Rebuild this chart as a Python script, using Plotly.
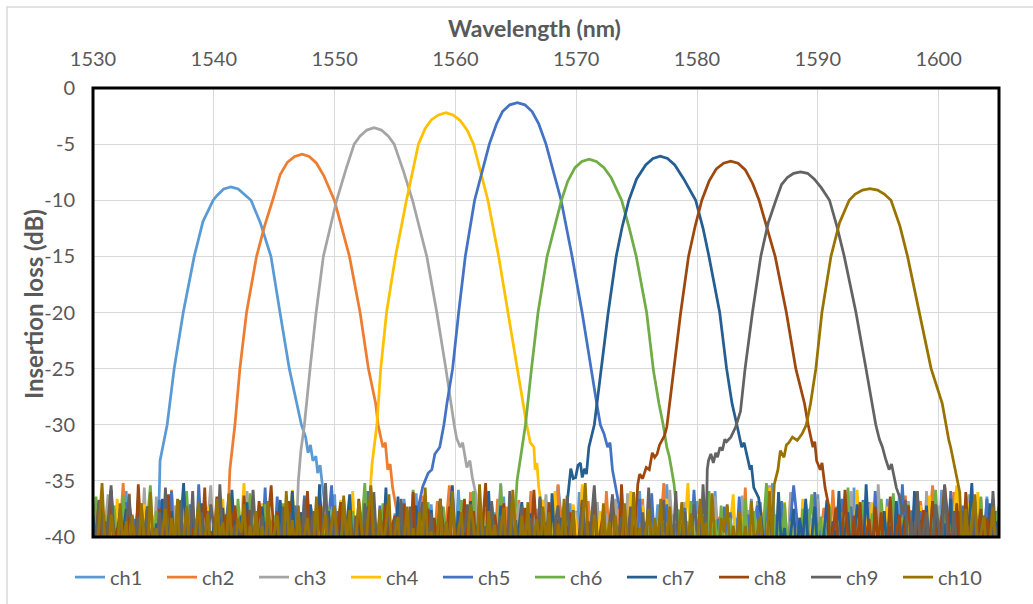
import numpy as np
import plotly.graph_objects as go

# ---------------- data ----------------
CHANNELS = ["ch1", "ch2", "ch3", "ch4", "ch5", "ch6", "ch7", "ch8", "ch9", "ch10"]
COLORS = ["#5B9BD5", "#ED7D31", "#A5A5A5", "#FFC000", "#4472C4",
          "#70AD47", "#255E91", "#9E480E", "#636363", "#997300"]
X_TICKS = [1530, 1540, 1550, 1560, 1570, 1580, 1590, 1600]
Y_TICKS = [0, -5, -10, -15, -20, -25, -30, -35, -40]
Y_TICK_TEXT = ["0", "-5", "-10", "-15", "-20", "-25", "-30", "-35", "-40"]

# noise-floor sampling grid (nm)
NOISE_START = 1530.0
NOISE_STEP = 0.25
NOISE_COUNT = 301

# passband: [wavelength nm, insertion loss dB]
PEAK1 = [[1535.45, -37.8], [1535.55, -33.2], [1535.85, -31.6], [1536.14, -30.0], [1536.72, -25.0],
         [1537.47, -20.0], [1538.38, -15.0], [1539.1, -11.9], [1539.95, -10.0], [1540.25, -9.6],
         [1540.82, -9.0], [1541.42, -8.81], [1542.02, -9.0], [1542.62, -9.6], [1543.08, -10.0],
         [1543.85, -12.0], [1544.73, -15.0], [1545.48, -20.0], [1546.25, -25.0], [1547.25, -30.0],
         [1547.6, -31.1], [1547.8, -32.5], [1548.0, -31.8], [1548.2, -33.2], [1548.45, -32.8],
         [1548.6, -34.3], [1548.8, -33.6], [1549.0, -35.5]]
PEAK2 = [[1541.2, -37.5], [1541.33, -34.0], [1541.75, -30.0], [1542.16, -25.0], [1542.71, -20.0],
         [1543.54, -15.0], [1544.2, -12.3], [1544.87, -10.0], [1545.5, -7.7], [1546.1, -6.6],
         [1546.7, -6.1], [1547.31, -5.89], [1547.9, -6.1], [1548.5, -6.7], [1549.1, -7.8],
         [1549.98, -10.0], [1550.6, -12.5], [1551.23, -15.0], [1552.11, -20.0], [1552.8, -25.0],
         [1553.4, -28.1], [1553.6, -30.0], [1554.0, -32.0], [1554.2, -31.6], [1554.4, -34.0],
         [1554.6, -33.5], [1554.8, -35.6], [1555.2, -38.0]]
PEAK3 = [[1546.95, -36.5], [1547.0, -35.0], [1547.2, -32.4], [1547.5, -30.0], [1547.97, -25.0],
         [1548.47, -20.0], [1549.07, -15.0], [1550.17, -10.0], [1550.95, -7.2], [1551.62, -5.0],
         [1552.1, -4.3], [1552.67, -3.75], [1553.27, -3.54], [1553.87, -3.75], [1554.45, -4.3],
         [1554.93, -5.0], [1555.7, -7.4], [1556.45, -10.0], [1557.63, -15.0], [1558.46, -20.0],
         [1559.21, -25.0], [1559.6, -28.1], [1559.9, -30.0], [1560.1, -31.2], [1560.4, -32.0],
         [1560.6, -31.6], [1560.95, -33.8], [1561.2, -33.2], [1561.4, -34.7], [1561.7, -36.2]]
PEAK4 = [[1552.95, -37.0], [1553.0, -35.0], [1553.1, -33.5], [1553.5, -30.0], [1553.82, -25.0],
         [1554.30, -20.0], [1555.04, -15.0], [1555.95, -10.0], [1556.94, -5.0], [1557.5, -3.6],
         [1558.0, -2.85], [1558.6, -2.4], [1559.21, -2.2], [1559.8, -2.4], [1560.4, -2.9],
         [1561.0, -3.8], [1561.5, -5.0], [1562.69, -10.0], [1563.58, -15.0], [1564.35, -20.0],
         [1565.1, -25.0], [1565.6, -28.1], [1565.9, -30.0], [1566.2, -31.6], [1566.5, -32.0],
         [1566.6, -34.0], [1566.75, -33.4], [1566.9, -35.6], [1567.1, -37.0]]
PEAK5 = [[1557.0, -37.0], [1557.3, -35.5], [1557.5, -35.0], [1557.75, -34.3], [1558.05, -34.0],
         [1558.3, -32.6], [1558.7, -32.0], [1559.05, -30.0], [1559.3, -28.1], [1559.77, -25.0],
         [1560.27, -20.0], [1560.82, -15.0], [1561.59, -10.0], [1562.81, -5.0], [1563.4, -3.2],
         [1563.9, -2.1], [1564.5, -1.5], [1565.13, -1.31], [1565.75, -1.5], [1566.35, -2.1],
         [1566.9, -3.2], [1567.50, -5.0], [1568.75, -10.0], [1569.66, -15.0], [1570.49, -20.0],
         [1571.2, -25.0], [1571.7, -28.1], [1572.0, -30.0], [1572.3, -30.8], [1572.6, -32.0],
         [1572.8, -31.6], [1573.0, -34.0], [1573.3, -35.6], [1573.6, -37.5]]
PEAK6 = [[1565.0, -37.0], [1565.1, -35.0], [1565.4, -32.9], [1565.8, -30.0], [1566.30, -25.0],
         [1566.84, -20.0], [1567.59, -15.0], [1568.2, -12.3], [1568.78, -10.0], [1569.3, -8.3],
         [1569.9, -7.1], [1570.47, -6.55], [1571.07, -6.34], [1571.67, -6.55], [1572.3, -7.1],
         [1572.9, -8.0], [1573.76, -10.0], [1574.4, -12.5], [1574.97, -15.0], [1575.83, -20.0],
         [1576.4, -25.2], [1576.85, -28.1], [1577.2, -30.0], [1577.5, -32.0], [1577.7, -32.8],
         [1577.9, -34.0], [1578.1, -35.3], [1578.3, -37.5]]
PEAK7 = [[1569.2, -37.5], [1569.35, -36.0], [1569.55, -33.9], [1569.75, -34.8], [1569.95, -34.7],
         [1570.15, -33.6], [1570.35, -33.4], [1570.5, -34.7], [1570.7, -33.9], [1570.85, -34.4],
         [1571.05, -32.0], [1571.5, -30.0], [1572.05, -25.0], [1572.65, -20.0], [1573.31, -15.0],
         [1573.8, -12.4], [1574.36, -10.0], [1575.0, -8.1], [1575.75, -6.85], [1576.36, -6.27],
         [1576.96, -6.07], [1577.56, -6.27], [1578.16, -6.85], [1578.9, -8.1], [1579.89, -10.0],
         [1580.5, -12.5], [1580.99, -15.0], [1581.88, -20.0], [1582.45, -25.0], [1582.9, -28.1],
         [1583.3, -30.0], [1583.7, -32.0], [1583.9, -31.6], [1584.2, -32.9], [1584.4, -34.0],
         [1584.5, -33.6], [1584.7, -35.6], [1585.1, -36.5], [1585.3, -38.0]]
PEAK8 = [[1575.0, -37.0], [1575.1, -35.3], [1575.25, -34.4], [1575.5, -34.8], [1575.8, -33.8],
         [1576.05, -34.0], [1576.3, -32.5], [1576.5, -32.9], [1576.7, -32.6], [1576.9, -31.8],
         [1577.1, -31.4], [1577.3, -31.0], [1577.5, -30.2], [1577.8, -27.5], [1578.08, -25.0],
         [1578.65, -20.0], [1579.3, -15.0], [1579.85, -12.3], [1580.4, -10.0], [1581.0, -8.3],
         [1581.6, -7.2], [1582.2, -6.7], [1582.79, -6.52], [1583.4, -6.7], [1584.0, -7.3],
         [1584.6, -8.5], [1585.14, -10.0], [1585.8, -12.4], [1586.47, -15.0], [1587.40, -20.0],
         [1588.18, -25.0], [1588.9, -28.1], [1589.2, -30.0], [1589.6, -32.0], [1589.75, -31.5],
         [1589.9, -33.2], [1590.2, -34.0], [1590.35, -33.4], [1590.6, -35.6], [1590.9, -37.2]]
PEAK9 = [[1580.8, -37.5], [1580.85, -34.0], [1580.95, -33.2], [1581.15, -32.6], [1581.35, -33.4],
         [1581.55, -32.5], [1581.7, -32.9], [1581.9, -32.0], [1582.1, -32.3], [1582.3, -31.3],
         [1582.45, -31.5], [1582.8, -31.1], [1583.2, -30.2], [1583.6, -28.8], [1583.98, -25.0],
         [1584.59, -20.0], [1585.28, -15.0], [1585.9, -12.0], [1586.53, -10.0], [1587.0, -8.6],
         [1587.5, -7.95], [1588.0, -7.6], [1588.57, -7.47], [1589.15, -7.6], [1589.7, -8.1],
         [1590.3, -8.9], [1590.97, -10.0], [1591.6, -12.4], [1592.19, -15.0], [1593.16, -20.0],
         [1593.99, -25.0], [1594.5, -28.1], [1594.8, -30.0], [1595.1, -31.3], [1595.35, -32.0],
         [1595.6, -33.0], [1595.9, -34.0], [1596.1, -33.5], [1596.5, -35.6], [1596.8, -36.5],
         [1597.0, -38.0]]
PEAK10 = [[1586.3, -37.5], [1586.4, -35.3], [1586.7, -34.0], [1586.9, -32.3], [1587.2, -32.9],
          [1587.4, -31.8], [1587.6, -31.6], [1587.9, -31.1], [1588.3, -31.4], [1588.7, -30.8],
          [1589.05, -30.0], [1589.4, -28.1], [1589.84, -25.0], [1590.34, -20.0], [1591.09, -15.0],
          [1591.8, -12.0], [1592.6, -10.0], [1593.1, -9.45], [1593.7, -9.1], [1594.32, -8.96],
          [1594.95, -9.1], [1595.5, -9.45], [1596.06, -10.0], [1596.8, -12.3], [1597.43, -15.0],
          [1598.40, -20.0], [1599.38, -25.0], [1600.3, -28.1], [1600.6, -30.0], [1600.85, -31.4],
          [1601.0, -32.0], [1601.3, -33.5], [1601.55, -34.7], [1601.75, -36.0]]

# noise-floor stretches (dB), 0.25 nm apart
NA = [-40.9, -37.7, -41.6, -39.0, -42, -36.8, -40.5, -39.6, -38.1, -41.8,
      -42, -35.9, -40.6, -38.5, -41.5, -37.2, -42, -39.9, -38.3, -41.2]
NB = [-41.7, -38.8, -40.6, -36.6, -42, -40.2, -37.7, -41.4, -42, -39.0,
      -35.2, -40.7, -41.9, -38.0, -39.8, -42, -37.0, -40.9, -38.6, -41.5]
NC = [-40.2, -42, -37.5, -41.0, -38.9, -36.2, -41.8, -39.7, -38.2, -42,
      -40.5, -37.3, -41.5, -39.2, -42, -37.8, -40.8, -35.6, -41.9, -39.5]
ND = [-42, -39.2, -36.9, -41.5, -40.3, -37.9, -41.2, -42, -36.6, -40.0,
      -38.7, -42, -36.1, -40.9, -42, -38.3, -39.6, -37.1, -41.6, -39.0]
NE = [-38.9, -41.9, -39.5, -37.4, -42, -40.7, -35.8, -40.1, -41.6, -38.1,
      -41.3, -36.9, -42, -39.8, -38.4, -41.7, -37.3, -40.5, -37.8, -42]
NF = [-40.8, -36.4, -42, -39.9, -38.0, -41.6, -38.8, -37.2, -41.1, -42,
      -36.3, -40.3, -37.6, -41.8, -40.4, -36.8, -39.7, -42, -38.5, -35.4]
NG = [-38.1, -40.8, -42, -37.0, -40.2, -41.9, -36.0, -40.9, -39.2, -42,
      -39.6, -37.5, -41.9, -38.3, -40.5, -36.6, -42, -40.0, -37.3, -41.4]
NH = [-41.5, -39.8, -36.7, -42, -38.6, -41.0, -35.9, -41.8, -39.5, -37.8,
      -42, -40.7, -37.1, -39.0, -42, -35.3, -40.2, -42, -37.7, -40.6]

# left stretch starts at NOISE_START; right stretch ends at the last grid point
NOISE1_L = NA + ND[:4]
NOISE1_R = NC + ND + NE + NF + NG + NH + NA + NB + NC + ND + NE + NF[:6]
NOISE2_L = NB + NE + NH[:6]
NOISE2_R = NF + NG + NH + NA + NB + NC + ND + NE + NF + NG + NH[:2]
NOISE3_L = NC + NF + NA + ND[:10]
NOISE3_R = NB + NC + ND + NE + NF + NG + NH + NA + NC[:16]
NOISE4_L = ND + NG + NB + NE + NH[:14]
NOISE4_R = NH + NA + NB + NC + ND + NE + NF + NG[:14]
NOISE5_L = NE + NH + NC + NF + NA + ND[:10]
NOISE5_R = ND + NE + NF + NG + NH + NA + NB[:8]
NOISE6_L = NF + NA + ND + NG + NB + NE + NH + NC[:2]
NOISE6_R = NA + NB + NC + ND + NE + NF[:8]
NOISE7_L = NG + NB + NE + NH + NC + NF + NA + ND[:18]
NOISE7_R = NG + NH + NA + NB
NOISE8_L = NH + NC + NF + NA + ND + NG + NB + NE + NH + NC[:2]
NOISE8_R = NE + NF + NG[:18]
NOISE9_L = NF[-7:] + NC + NH + NE + NB + NG + ND + NA + NF + NC + NH
NOISE9_R = NH + NA[:14]
NOISE10_L = NB[-13:] + NG + ND + NA + NF + NC + NH + NE + NB + NG + ND + NA[:15]
NOISE10_R = NC[:14]

PEAKS = [PEAK1, PEAK2, PEAK3, PEAK4, PEAK5, PEAK6, PEAK7, PEAK8, PEAK9, PEAK10]
NOISE_L = [NOISE1_L, NOISE2_L, NOISE3_L, NOISE4_L, NOISE5_L,
           NOISE6_L, NOISE7_L, NOISE8_L, NOISE9_L, NOISE10_L]
NOISE_R = [NOISE1_R, NOISE2_R, NOISE3_R, NOISE4_R, NOISE5_R,
           NOISE6_R, NOISE7_R, NOISE8_R, NOISE9_R, NOISE10_R]

# ---------------- figure ----------------
W, H = 1033, 604
ML, MR, MT, MB = 93, 34, 88, 67
PW, PH = W - ML - MR, H - MT - MB
FONT = "Lato, Carlito, 'Open Sans', sans-serif"
TXT = "#595959"

grid = NOISE_START + NOISE_STEP * np.arange(NOISE_COUNT)

fig = go.Figure()
for name, color, peak, nl, nr in zip(CHANNELS, COLORS, PEAKS, NOISE_L, NOISE_R):
    p_wl = [p[0] for p in peak]
    p_db = [p[1] for p in peak]
    xs, ys = [], []
    for i, v in enumerate(nl[:NOISE_COUNT]):
        if grid[i] < p_wl[0]:
            xs.append(float(grid[i])); ys.append(v)
    xs += p_wl; ys += p_db
    nr = nr[-NOISE_COUNT:]
    off = NOISE_COUNT - len(nr)
    for j, v in enumerate(nr):
        if grid[off + j] > p_wl[-1]:
            xs.append(float(grid[off + j])); ys.append(v)
    fig.add_trace(go.Scatter(x=xs, y=ys, mode="lines", name=name,
                             line=dict(color=color, width=2.75)))

fig.update_layout(
    width=W, height=H,
    margin=dict(l=ML, r=MR, t=MT, b=MB, autoexpand=False),
    paper_bgcolor="white", plot_bgcolor="white",
    font=dict(family=FONT, size=20, color=TXT),
    showlegend=True,
    legend=dict(orientation="h", xref="paper", yref="paper",
                x=(70 - ML) / PW, xanchor="left", y=-(577 - (H - MB)) / PH, yanchor="middle",
                entrywidth=47, entrywidthmode="pixels", itemwidth=30,
                font=dict(family=FONT, size=20, color=TXT),
                bgcolor="rgba(0,0,0,0)"),
    xaxis=dict(side="top", range=[1530, 1605], tickvals=X_TICKS,
               ticktext=[str(v) for v in X_TICKS],
               showgrid=True, gridcolor="#d9d9d9", gridwidth=1,
               zeroline=False, showline=False,
               ticks="outside", ticklen=13, tickcolor="rgba(0,0,0,0)",
               tickfont=dict(family=FONT, size=20, color=TXT)),
    yaxis=dict(range=[-40, 0], tickvals=Y_TICKS, ticktext=Y_TICK_TEXT,
               showgrid=True, gridcolor="#d9d9d9", gridwidth=1,
               zeroline=False, showline=False,
               ticks="outside", ticklen=13, tickcolor="rgba(0,0,0,0)",
               tickfont=dict(family=FONT, size=20, color=TXT)),
    annotations=[
        dict(text="<b>Wavelength (nm)</b>", xref="paper", yref="paper",
             x=(534 - ML) / PW, y=1 + (MT - 28) / PH, xanchor="center", yanchor="middle",
             showarrow=False, font=dict(family=FONT, size=23, color=TXT)),
        dict(text="<b>Insertion loss (dB)</b>", xref="paper", yref="paper", textangle=-90,
             x=(33 - ML) / PW, y=1 - (304 - MT) / PH, xanchor="center", yanchor="middle",
             showarrow=False, font=dict(family=FONT, size=24, color=TXT)),
    ],
    shapes=[
        dict(type="rect", xref="paper", yref="paper", x0=0, x1=1, y0=0, y1=1,
             line=dict(color="black", width=3), fillcolor="rgba(0,0,0,0)", layer="above"),
        dict(type="rect", xref="paper", yref="paper",
             x0=(7 - ML) / PW, x1=(W + 10 - ML) / PW,
             y0=-(MB + 10) / PH, y1=1 + (MT - 7) / PH,
             line=dict(color="#d9d9d9", width=1.5), fillcolor="rgba(0,0,0,0)", layer="below"),
    ],
)

fig.write_html("out.html")
